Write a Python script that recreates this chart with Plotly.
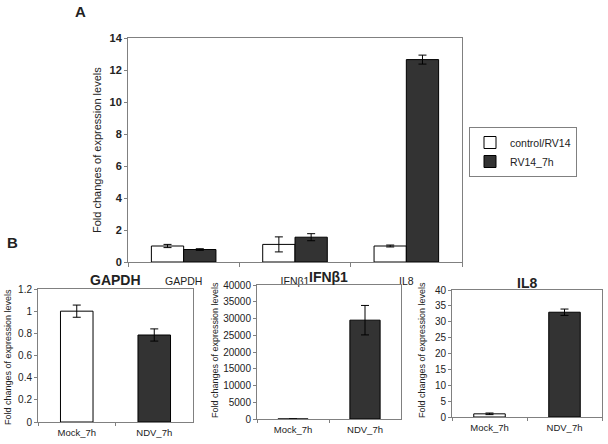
import plotly.graph_objects as go

# Panel A data
genes = ["GAPDH", "IFNβ1", "IL8"]
control_vals = [1.0, 1.1, 1.0]
control_err = [0.1, 0.47, 0.06]
rv14_vals = [0.78, 1.55, 12.65]
rv14_err = [0.05, 0.22, 0.28]
a_ticks = [0, 2, 4, 6, 8, 10, 12, 14]

# Panel B data
b_cats = ["Mock_7h", "NDV_7h"]
gapdh_vals = [1.0, 0.785]
gapdh_err = [0.055, 0.055]
ifn_vals = [1.0, 29500]
ifn_err = [0, 4400]
il8_vals = [1.0, 33.0]
il8_err = [0.25, 1.0]
gapdh_ticks = [0, 0.2, 0.4, 0.6, 0.8, 1, 1.2]
ifn_ticks = [0, 5000, 10000, 15000, 20000, 25000, 30000, 35000, 40000]
il8_ticks = [0, 5, 10, 15, 20, 25, 30, 35, 40]

FONT = "Liberation Sans, Arial, sans-serif"
DARK = "#333333"
FRAME = "#808080"

def px_x(p):
    return p / 608

def px_y(p):
    return 1 - p / 444

fig = go.Figure()

# Panel A
fig.add_trace(go.Bar(x=genes, y=control_vals, name="control/RV14",
                     marker=dict(color="white", line=dict(color="black", width=1)),
                     error_y=dict(type="data", array=control_err, color="black", thickness=1, width=4),
                     xaxis="x", yaxis="y"))
fig.add_trace(go.Bar(x=genes, y=rv14_vals, name="RV14_7h",
                     marker=dict(color=DARK, line=dict(color="black", width=1)),
                     error_y=dict(type="data", array=rv14_err, color="black", thickness=1, width=4),
                     xaxis="x", yaxis="y"))

# Panel B
b_colors = ["white", DARK]
for vals, errs, xa, ya in [(gapdh_vals, gapdh_err, "x2", "y2"),
                           (ifn_vals, ifn_err, "x3", "y3"),
                           (il8_vals, il8_err, "x4", "y4")]:
    fig.add_trace(go.Bar(x=b_cats, y=vals, showlegend=False,
                         marker=dict(color=b_colors, line=dict(color="black", width=1)),
                         error_y=dict(type="data", array=errs, color="black", thickness=1, width=4),
                         width=0.42, xaxis=xa, yaxis=ya))

def ax(**kw):
    d = dict(showline=True, linecolor=FRAME, linewidth=1, mirror=True,
             showgrid=False, zeroline=False, ticks="outside", ticklen=3,
             tickcolor=FRAME, fixedrange=True, automargin=False)
    d.update(kw)
    return d

def fmt(v):
    return ("%g" % v)

fig.update_layout(
    template="none",
    width=608, height=444,
    margin=dict(l=0, r=0, t=0, b=0, autoexpand=False),
    paper_bgcolor="white", plot_bgcolor="white",
    font=dict(family=FONT, color="#222222"),
    barmode="group", bargap=0.42, bargroupgap=0.0,
    showlegend=True,
    legend=dict(x=px_x(469), y=px_y(127), xanchor="left", yanchor="top",
                bordercolor=FRAME, borderwidth=1, bgcolor="white",
                font=dict(size=10.5, family=FONT), tracegroupgap=0,
                itemwidth=30),
    xaxis=ax(domain=[px_x(128), px_x(462)], anchor="y", tickson="boundaries",
             tickfont=dict(size=10.5), ticklen=4, ticklabelstandoff=9),
    yaxis=ax(domain=[px_y(262), px_y(38)], anchor="x", range=[0, 14],
             tickvals=a_ticks, ticktext=["<b>%s</b>" % fmt(v) for v in a_ticks],
             tickfont=dict(size=11)),
    xaxis2=ax(domain=[px_x(38), px_x(193)], anchor="y2", tickson="boundaries",
              tickfont=dict(size=9.5), ticklabelstandoff=2),
    yaxis2=ax(domain=[px_y(422), px_y(289)], anchor="x2", range=[0, 1.2],
              tickvals=gapdh_ticks, ticktext=[fmt(v) for v in gapdh_ticks],
              tickfont=dict(size=10)),
    xaxis3=ax(domain=[px_x(257), px_x(401)], anchor="y3", tickson="boundaries",
              tickfont=dict(size=9.5), ticklabelstandoff=2),
    yaxis3=ax(domain=[px_y(419), px_y(285)], anchor="x3", range=[0, 40000],
              tickvals=ifn_ticks, ticktext=[fmt(v) for v in ifn_ticks],
              tickfont=dict(size=10)),
    xaxis4=ax(domain=[px_x(452), px_x(602)], anchor="y4", tickson="boundaries",
              tickfont=dict(size=9.5), ticklabelstandoff=2),
    yaxis4=ax(domain=[px_y(417), px_y(290)], anchor="x4", range=[0, 40],
              tickvals=il8_ticks, ticktext=[fmt(v) for v in il8_ticks],
              tickfont=dict(size=10)),
)

annotations = [
    dict(text="<b>A</b>", x=px_x(80), y=px_y(12), font=dict(size=15)),
    dict(text="<b>B</b>", x=px_x(12), y=px_y(243), font=dict(size=15)),
    dict(text="Fold changes of expression levels", x=px_x(97), y=px_y(150),
         textangle=-90, font=dict(size=11)),
    dict(text="Fold changes of expression levels", x=px_x(8), y=px_y(357),
         textangle=-90, font=dict(size=9)),
    dict(text="Fold changes of expression levels", x=px_x(215), y=px_y(350),
         textangle=-90, font=dict(size=9)),
    dict(text="Fold changes of expression levels", x=px_x(422), y=px_y(350),
         textangle=-90, font=dict(size=9)),
    dict(text="<b>GAPDH</b>", x=px_x(115), y=px_y(280), font=dict(size=14)),
    dict(text="<b>IFNβ1</b>", x=px_x(329), y=px_y(277), font=dict(size=14)),
    dict(text="<b>IL8</b>", x=px_x(527), y=px_y(283), font=dict(size=14)),
]
for a in annotations:
    a.update(xref="paper", yref="paper", showarrow=False, xanchor="center", yanchor="middle")
fig.update_layout(annotations=annotations)

fig.write_html("out.html", config={"displayModeBar": False},
               post_script="document.body.style.margin='0';document.body.style.overflow='hidden';")
